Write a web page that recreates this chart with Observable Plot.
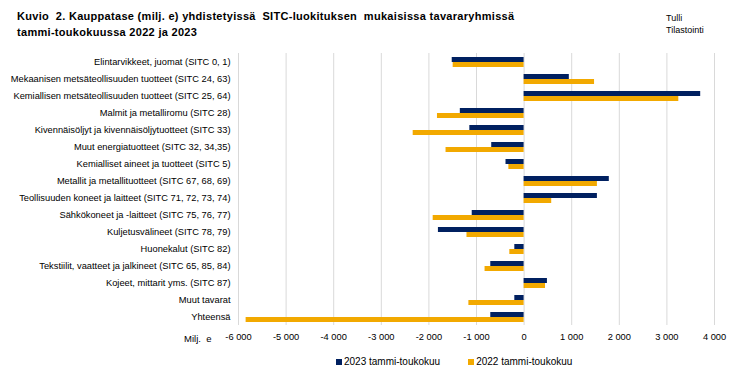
<!DOCTYPE html>
<html>
<head>
<meta charset="utf-8">
<script src="https://cdn.jsdelivr.net/npm/d3@7"></script>
<script src="https://cdn.jsdelivr.net/npm/@observablehq/plot@0.6"></script>
<style>
  html, body { margin: 0; padding: 0; background: #fff; }
  #wrap { position: relative; width: 737px; height: 378px; overflow: hidden; font-family: "Liberation Sans", Arial, sans-serif; color: #000; }
  #title { position: absolute; left: 17px; top: 8px; font-weight: bold; font-size: 11px; letter-spacing: 0.3px; line-height: 16px; white-space: nowrap; }
  #source { position: absolute; left: 666px; top: 12px; font-size: 9px; line-height: 12px; }
  #unit { position: absolute; left: 184px; top: 333px; font-size: 9.5px; }
  #legend { position: absolute; left: 336px; top: 356px; font-size: 10px; display: flex; align-items: center; white-space: nowrap; }
  .sw { display: inline-block; width: 6px; height: 6px; margin-right: 2px; }
  #chart { position: absolute; left: 0; top: 0; }
</style>
</head>
<body>
<div id="wrap">
  <div id="title">Kuvio&nbsp; 2. Kauppatase (milj. e) yhdistetyissä&nbsp; SITC-luokituksen&nbsp; mukaisissa tavararyhmissä<br>tammi-toukokuussa 2022 ja 2023</div>
  <div id="source">Tulli<br>Tilastointi</div>
  <div id="chart"></div>
  <div id="unit">Milj.&nbsp; e</div>
  <div id="legend"></div>
</div>
<script>
const categories = [
  "Elintarvikkeet, juomat (SITC 0, 1)",
  "Mekaanisen metsäteollisuuden tuotteet (SITC 24, 63)",
  "Kemiallisen metsäteollisuuden tuotteet (SITC 25, 64)",
  "Malmit ja metalliromu (SITC 28)",
  "Kivennäisöljyt ja kivennäisöljytuotteet (SITC 33)",
  "Muut energiatuotteet (SITC 32, 34,35)",
  "Kemialliset aineet ja tuotteet (SITC 5)",
  "Metallit ja metallituotteet (SITC 67, 68, 69)",
  "Teollisuuden koneet ja laitteet (SITC 71, 72, 73, 74)",
  "Sähkökoneet ja -laitteet (SITC 75, 76, 77)",
  "Kuljetusvälineet (SITC 78, 79)",
  "Huonekalut (SITC 82)",
  "Tekstiilit, vaatteet ja jalkineet (SITC 65, 85, 84)",
  "Kojeet, mittarit yms. (SITC 87)",
  "Muut tavarat",
  "Yhteensä"
];
const seriesNames = ["2023 tammi-toukokuu", "2022 tammi-toukokuu"];
const values2023 = [-1510, 950, 3710, -1340, -1140, -680, -380, 1790, 1540, -1090, -1800, -195, -700, 490, -195, -700];
const values2022 = [-1490, 1480, 3250, -1820, -2330, -1640, -320, 1540, 580, -1910, -1200, -300, -820, 450, -1160, -5840];
const seriesColors = ["#002060", "#f2a900"];
const xTicks = [-6000, -5000, -4000, -3000, -2000, -1000, 0, 1000, 2000, 3000, 4000];

const rows = [];
categories.forEach((c, i) => {
  rows.push({category: c, series: seriesNames[0], value: values2023[i]});
  rows.push({category: c, series: seriesNames[1], value: values2022[i]});
});

const fi = d3.formatLocale({decimal: ",", thousands: "\u00a0", grouping: [3], currency: ["", " €"], minus: "-"});
const fmt = fi.format(",d");

const chart = Plot.plot({
  width: 737,
  height: 350,
  marginLeft: 238,
  marginRight: 23,
  marginTop: 52,
  marginBottom: 24,
  style: {fontFamily: "Liberation Sans, Arial, sans-serif", fontSize: "9.3px", color: "#000", background: "transparent"},
  x: {domain: [-6000, 4000], ticks: xTicks, tickFormat: fmt, tickSize: 0, tickPadding: 8, label: null, grid: false},
  y: {domain: seriesNames, axis: null, paddingInner: 0, paddingOuter: 0.43},
  fy: {domain: categories, axis: "left", label: null, tickSize: 0, tickPadding: 8, padding: 0},
  color: {domain: seriesNames, range: seriesColors},
  marks: [
    Plot.ruleX(xTicks, {x: d => d, stroke: "#d9d9d9", strokeWidth: 1}),
    Plot.barX(rows, {fy: "category", y: "series", x: "value", fill: "series", inset: 0})
  ]
});
document.getElementById("chart").appendChild(chart);

const legend = document.getElementById("legend");
seriesNames.forEach((s, i) => {
  const item = document.createElement("span");
  item.style.display = "inline-flex";
  item.style.alignItems = "center";
  item.style.marginRight = i === 0 ? "28px" : "0";
  const sw = document.createElement("span");
  sw.className = "sw";
  sw.style.background = seriesColors[i];
  item.appendChild(sw);
  item.appendChild(document.createTextNode(s));
  legend.appendChild(item);
});
</script>
</body>
</html>
